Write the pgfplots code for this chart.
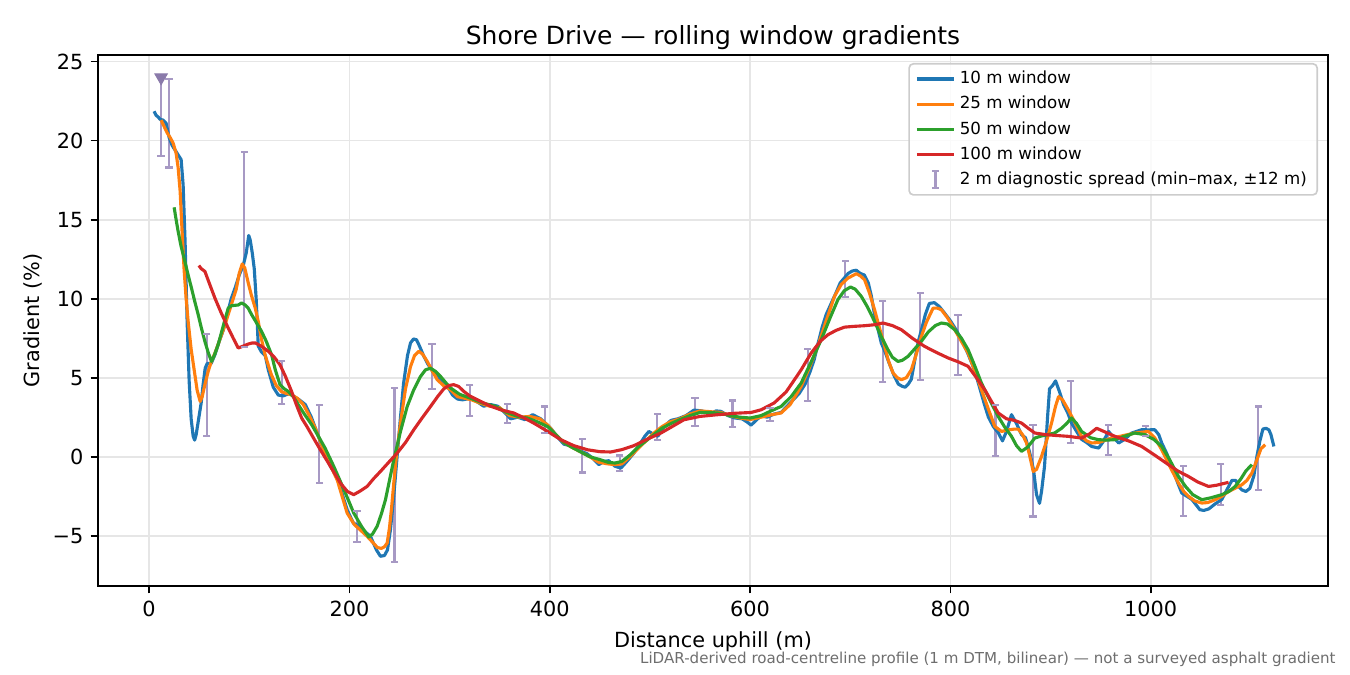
\documentclass[border=0pt]{standalone}
\usepackage{fontspec}
\setmainfont{DejaVu Sans}
\usepackage{pgfplots}
\usepackage{pgfplotstable}
\pgfplotsset{compat=1.18}

\definecolor{c10}{HTML}{1F77B4}
\definecolor{c25}{HTML}{FF7F0E}
\definecolor{c50}{HTML}{2CA02C}
\definecolor{c100}{HTML}{D62728}
\definecolor{barcol}{RGB}{167,153,196}
\definecolor{tricol}{RGB}{138,122,170}
\definecolor{gridgray}{RGB}{230,230,230}
\definecolor{footgray}{RGB}{110,110,110}

% 2 m diagnostic spread: x, min, max
\pgfplotstableread{
x lo hi
12 19.0 24.0
20 18.3 23.9
57.5 1.29 7.76
95 6.92 19.3
132.5 3.33 6.03
170 -1.67 3.29
207.5 -5.4 -3.42
245 -6.69 4.35
282.5 4.3 7.15
320 2.6 4.56
357.5 2.13 3.35
395 1.5 3.18
432.5 -1.0 1.14
470 -0.93 0.08
507.5 1.03 2.7
545 1.96 3.7
582.5 1.86 3.56
620 2.24 3.08
657.5 3.54 6.84
695 10.08 12.36
732.5 4.7 9.83
770 4.87 10.36
807.5 5.15 8.94
845 0.02 3.29
882.5 -3.78 1.98
920 0.87 4.8
957.5 0.13 2.03
995 1.29 1.92
1032.5 -3.73 -0.57
1070 -3.04 -0.46
1107.5 -2.13 3.18
}\spread

\begin{document}
\begin{tikzpicture}
\path[use as bounding box] (-47.04pt,-42.72pt) rectangle (600.96pt,281.28pt);
\begin{axis}[
    scale only axis,
    width=590.4pt, height=254.88pt,
    xmin=-51, xmax=1177,
    ymin=-8.18, ymax=25.42,
    xtick={0,200,400,600,800,1000},
    ytick={-5,0,5,10,15,20,25},
    yticklabels={−5,0,5,10,15,20,25},
    tick pos=left,
    tick align=outside,
    major tick length=3.5pt,
    every tick/.style={black, line width=0.8pt},
    axis line style={line width=0.8pt},
    grid=major,
    grid style={gridgray, line width=0.8pt},
    /pgf/number format/assume math mode=true,
    /pgf/number format/1000 sep={},
    tick label style={font=\fontsize{10}{12}\selectfont},
    title={Shore Drive — rolling window gradients},
    title style={font=\fontsize{12}{14}\selectfont, at={(axis description cs:0.5,1)}, anchor=base, yshift=-0.9pt},
    xlabel={Distance uphill (m)},
    xlabel style={font=\fontsize{10}{12}\selectfont, at={(axis description cs:0.5,0)}, anchor=base, yshift=-29.3pt},
    legend image code/.code={\draw[#1] (0pt,0pt) -- (17.8pt,0pt);},
    legend cell align=left,
    legend style={at={(axis description cs:1,1)}, anchor=north east, xshift=-4.8pt, yshift=-3.84pt,
        draw={rgb,255:red,204;green,204;blue,204}, line width=0.8pt, rounded corners=2pt,
        fill=white, fill opacity=0.8, text opacity=1,
        font=\fontsize{8}{9.6}\selectfont, row sep=0.5pt, inner xsep=3pt, inner ysep=1.5pt},
]

% spread bars: vertical lines, then caps at both ends
\addplot[draw=none, mark=none, forget plot,
    error bars/.cd, y dir=both, y explicit, error mark=none,
    error bar style={draw=barcol, line width=1pt}]
    table[x=x, y expr={(\thisrow{lo}+\thisrow{hi})/2}, y error expr={(\thisrow{hi}-\thisrow{lo})/2}] {\spread};
\addplot[only marks, mark=-, mark size=1.75pt, forget plot,
    mark options={draw=barcol, line width=1pt}] table[x=x, y=lo] {\spread};
\addplot[only marks, mark=-, mark size=1.75pt, forget plot,
    mark options={draw=barcol, line width=1pt}] table[x=x, y=hi] {\spread};

\addplot[only marks, mark=triangle*, mark size=3.5pt, forget plot,
    mark options={rotate=180, fill=tricol, draw=tricol}] coordinates {(12,24)};

% 10 m window
\addplot[c10, line width=1.5pt, line join=round] coordinates {
(5,21.86)(7,21.6)(9,21.5)(11,21.35)(14,21.3)(17,21.1)(20,20.2)(23,19.7)(26,19.4)(29,19.1)(32,18.8)(34,17.2)(36,13.5)(38,8.5)(40,4.8)(42,2.4)(44,1.3)(45.5,1.05)(47,1.4)(49,2.2)(52,3.4)(54,4.6)(56,5.6)(58,5.9)(62,5.9)(66,6.5)(70,7.3)(74,8.0)(78,9.0)(82,10.0)(86,10.7)(90,11.5)(94,12.1)(97,12.9)(99.5,14.0)(101,13.7)(103,12.9)(105,11.9)(107,9.9)(109,7.0)(112,6.65)(116,6.4)(119,5.5)(124,4.4)(129,3.9)(134,3.85)(140,4.0)(145,3.8)(150,3.6)(156,3.3)(162,2.5)(169,1.3)(175,0.3)(181,-0.6)(188,-1.3)(194,-2.6)(198,-3.4)(204,-4.2)(210,-4.4)(213,-4.6)(221,-5.04)(227,-5.9)(231,-6.3)(235,-6.25)(238,-5.9)(241,-4.6)(244,-2.7)(248,0.3)(251,2.5)(254,4.6)(258,6.4)(261,7.2)(264,7.45)(267,7.4)(270,7.0)(274,6.4)(278,5.9)(283,5.4)(288,5.05)(293,4.8)(298,4.45)(303,3.9)(308,3.65)(313,3.6)(321,3.7)(327,3.5)(334,3.2)(341,3.3)(348,3.2)(355,2.8)(361,2.4)(368,2.5)(375,2.35)(383,2.66)(391,2.4)(396,2.1)(401,1.8)(407,1.3)(414,0.8)(420,0.7)(426,0.5)(431,0.35)(437,0.2)(443,-0.1)(449,-0.5)(454,-0.3)(459,-0.25)(465,-0.6)(471,-0.72)(477,-0.3)(484,0.23)(490,0.8)(495,1.3)(499,1.6)(504,1.4)(508,1.3)(514,1.9)(521,2.3)(528,2.4)(536,2.6)(544,2.95)(552,2.9)(560,2.7)(566,2.9)(571,2.87)(578,2.6)(585,2.45)(592,2.4)(597,2.2)(601,2.0)(606,2.3)(611,2.6)(617,2.5)(624,2.7)(631,2.8)(637,3.2)(643,3.6)(649,4.0)(655,4.6)(660,5.4)(664,6.14)(668,7.2)(672,8.2)(676,9.0)(681,9.7)(686,10.4)(690,11.0)(694,11.3)(698,11.6)(702,11.75)(706,11.8)(710,11.6)(714,11.5)(718,11.0)(721,10.2)(724,9.1)(728,8.0)(731,7.2)(735,6.6)(739,5.9)(744,5.1)(748,4.6)(752,4.45)(755,4.4)(758,4.6)(761,4.9)(765,6.3)(768,7.3)(771,8.0)(775,9.0)(779,9.7)(784,9.75)(789,9.5)(794,9.1)(800,8.6)(806,8.0)(811,7.4)(817,6.6)(824,5.5)(830,4.2)(834,3.3)(838,2.5)(843,1.9)(848,1.5)(852,1.0)(856,1.6)(861,2.66)(866,2.1)(871,1.4)(875,1.2)(879,0.3)(883,-0.82)(886,-2.4)(889,-2.95)(891,-2.2)(894,-0.6)(897,2.5)(899,4.3)(902,4.5)(905,4.8)(909,4.1)(913,3.3)(917,2.8)(921,2.13)(926,1.6)(931,1.1)(936,0.9)(941,0.65)(948,0.55)(952,0.9)(958,1.6)(963,1.2)(968,0.87)(974,1.1)(981,1.5)(991,1.71)(998,1.7)(1004,1.71)(1008,1.4)(1011,0.87)(1016,0.2)(1021,-0.6)(1026,-1.5)(1031,-2.3)(1036,-2.5)(1041,-2.7)(1046,-3.1)(1049,-3.35)(1053,-3.4)(1058,-3.3)(1064,-3.0)(1071,-2.7)(1076,-2.1)(1081,-1.5)(1085,-1.5)(1088,-1.9)(1091,-2.1)(1095,-2.2)(1099,-2.0)(1103,-1.2)(1106,0.02)(1109,1.0)(1112,1.75)(1115,1.8)(1118,1.7)(1120,1.4)(1123,0.65)
};
\addlegendentry{10 m window}

% 25 m window
\addplot[c25, line width=1.5pt, line join=round] coordinates {
(12,21.3)(15,20.9)(18,20.5)(21,20.2)(24,19.85)(27,19.2)(29,18.3)(31,16.8)(33,14.2)(35,11.8)(37,10.0)(39,8.56)(42,6.8)(45,5.5)(48,4.2)(51,3.5)(53,3.8)(55.7,4.56)(59,5.4)(62,6.0)(66,6.6)(70,7.3)(75,8.2)(79,9.0)(83,9.8)(87,10.6)(90,11.6)(93,12.2)(95.5,11.95)(99,11.0)(102,10.25)(106,9.4)(109,8.56)(112,7.5)(116,6.4)(119,5.8)(122,5.2)(127,4.5)(132,4.13)(137,4.0)(142,3.92)(148,3.7)(154,3.3)(160,2.6)(166,1.8)(172,0.8)(180,-0.4)(188,-1.5)(197.7,-3.56)(205,-4.3)(212,-4.7)(217.7,-5.04)(223,-5.4)(228,-5.75)(232,-5.8)(235,-5.7)(237.7,-5.46)(240,-4.5)(242,-3.3)(244.3,-1.67)(247,0.1)(251,2.13)(256,4.3)(261,5.7)(265,6.4)(269.3,6.67)(273,6.5)(277.7,6.03)(283,5.4)(287.7,4.87)(294,4.5)(301,4.24)(308,3.8)(315,3.7)(322,3.6)(330,3.4)(340,3.2)(350,3.1)(360,2.6)(370,2.5)(380,2.55)(390,2.4)(398,2.0)(406,1.4)(414,0.9)(422,0.6)(431,0.3)(440,0.0)(449,-0.35)(457.7,-0.45)(465,-0.5)(472,-0.45)(480,0.0)(488,0.5)(496,1.0)(504,1.5)(512,1.9)(520,2.2)(530,2.4)(540,2.7)(550,2.9)(560,2.85)(571,2.8)(580,2.6)(590,2.45)(600,2.35)(611,2.5)(621,2.65)(631,2.77)(640,3.3)(651,4.45)(659,5.6)(667.7,7.0)(676,8.6)(684.3,10.15)(691,10.9)(697.7,11.3)(706,11.58)(710,11.45)(714.3,11.2)(719,10.4)(724.3,9.3)(729,8.2)(734.3,7.0)(738,6.1)(742.7,5.3)(747,5.0)(751,4.87)(756,5.0)(761,5.5)(766,6.5)(771,7.6)(776,8.5)(782.7,9.4)(787,9.4)(791,9.3)(797,8.8)(804.3,8.04)(811,7.3)(817.7,6.56)(824,5.5)(831,4.24)(838,3.0)(844.3,1.92)(851,1.6)(858,1.7)(864,1.75)(867.7,1.75)(872,1.4)(876,0.87)(879,0.1)(882.7,-0.93)(886,-0.8)(891,0.02)(896,1.0)(901,2.13)(905,3.2)(908,3.8)(912,3.6)(917.7,2.97)(924,2.2)(931,1.29)(936,1.0)(941,0.87)(948,0.9)(955,1.05)(961,1.18)(970,1.3)(977,1.4)(984,1.5)(991,1.55)(997.7,1.6)(1004,1.2)(1011,0.44)(1019,-0.6)(1027.7,-1.67)(1033,-2.2)(1037.7,-2.5)(1044,-2.8)(1051,-2.93)(1057,-2.9)(1064.3,-2.72)(1071,-2.5)(1077.7,-2.2)(1084,-2.0)(1091,-1.77)(1096,-1.5)(1101,-1.03)(1106,-0.2)(1110,0.5)(1114.3,0.76)
};
\addlegendentry{25 m window}

% 50 m window
\addplot[c50, line width=1.5pt, line join=round] coordinates {
(25,15.78)(27,15.0)(29,14.26)(32,13.3)(35.7,12.36)(39,11.5)(42.3,10.68)(45.7,9.8)(49,9.0)(52,8.2)(55.7,7.3)(59,6.6)(62.3,6.03)(65,6.4)(69,7.1)(72,7.8)(75,8.5)(79,9.4)(82,9.55)(85.7,9.58)(89,9.6)(92.3,9.73)(96,9.6)(99,9.4)(102.3,9.0)(107,8.5)(112.3,7.93)(117,7.3)(122.3,6.45)(126,5.5)(130.7,4.56)(135,4.3)(139,4.13)(144,3.8)(149,3.29)(155,2.7)(162.3,2.03)(169,1.3)(175.7,0.55)(184.3,-0.6)(194,-2.0)(204.3,-3.56)(212,-4.4)(219.3,-5.08)(223,-4.9)(227.7,-4.4)(232,-3.6)(236,-2.72)(240,-1.5)(244.3,-0.2)(251,1.6)(257.7,3.18)(264,4.2)(271,5.08)(276,5.5)(281,5.6)(286,5.4)(291,5.08)(296,4.7)(301,4.35)(310,3.95)(321,3.7)(333,3.4)(345,3.2)(357,2.8)(368,2.55)(377.7,2.45)(388,2.2)(398,1.9)(406,1.4)(414,0.9)(422,0.6)(431,0.3)(440,0.0)(451,-0.2)(458,-0.35)(465,-0.4)(472,-0.3)(480,0.1)(488,0.6)(496,1.0)(504,1.4)(512,1.8)(521,2.1)(530,2.35)(540,2.6)(550,2.8)(560,2.8)(571,2.75)(580,2.6)(590,2.5)(600,2.45)(611,2.6)(621,2.9)(631,3.18)(641,3.8)(651,4.66)(661,6.0)(671,7.4)(680,8.8)(687.7,9.94)(694,10.5)(700.3,10.74)(705,10.6)(711,10.15)(717,9.5)(724.3,8.56)(731,7.6)(737.7,6.77)(742,6.3)(747.7,6.03)(752,6.1)(757.7,6.35)(764,6.8)(771,7.3)(778,7.9)(785,8.3)(791,8.46)(797,8.4)(804.3,8.04)(811,7.5)(817.7,6.77)(824,5.8)(831,4.66)(840,3.5)(847.7,2.55)(854,1.9)(861,1.29)(866,0.7)(871,0.34)(877,0.6)(884.3,1.18)(890,1.3)(897.7,1.4)(904,1.5)(911,1.8)(916,2.1)(921,2.45)(926,2.1)(931,1.6)(940,1.2)(947.7,1.08)(956,1.05)(964.3,1.08)(974,1.3)(984,1.5)(994,1.4)(1003,1.1)(1011,0.65)(1019,-0.2)(1027.7,-1.25)(1035,-1.9)(1042,-2.4)(1051,-2.72)(1060,-2.6)(1071,-2.4)(1078,-2.2)(1084.3,-1.88)(1090,-1.4)(1095,-0.9)(1101,-0.5)
};
\addlegendentry{50 m window}

% 100 m window
\addplot[c100, line width=1.5pt, line join=round] coordinates {
(49.7,12.1)(52,11.9)(55.7,11.73)(60,11.0)(65.7,10.04)(72,9.1)(79,8.14)(84,7.5)(89,6.88)(94,7.0)(99,7.13)(103,7.2)(106,7.2)(112,7.0)(119,6.67)(125,6.3)(130.7,5.82)(136,5.1)(142.3,4.13)(147,3.3)(152.3,2.45)(157.7,1.9)(164,1.2)(171,0.44)(180,-0.5)(191,-1.67)(198,-2.2)(204.3,-2.4)(210,-2.2)(217.7,-1.88)(224,-1.4)(231,-0.93)(240,-0.3)(247.7,0.23)(256,0.9)(264.3,1.71)(272,2.4)(281,3.18)(288,3.8)(294.3,4.3)(299,4.5)(304,4.56)(309,4.45)(314.3,4.13)(320,3.85)(331,3.5)(341,3.2)(351,2.97)(364,2.77)(373,2.5)(384,2.13)(398,1.6)(411,1.08)(424,0.7)(437.7,0.44)(450,0.32)(461,0.3)(472,0.45)(484,0.7)(497,1.1)(511,1.5)(522,1.9)(534,2.34)(550,2.55)(567.7,2.66)(585,2.75)(601,2.8)(611,2.97)(624,3.4)(636,4.1)(644.3,4.87)(651,5.5)(661,6.56)(670,7.3)(677.7,7.72)(686,8.0)(694.3,8.2)(704,8.25)(714.3,8.29)(724,8.35)(732.7,8.46)(742,8.3)(751,8.04)(762,7.5)(774.3,6.98)(786,6.6)(797.7,6.25)(808,6.0)(817.7,5.72)(826,5.0)(834.3,4.24)(841,3.5)(847.7,2.77)(856,2.4)(864,2.3)(871,2.13)(877.7,1.8)(884.3,1.5)(895,1.4)(904.3,1.35)(917.7,1.29)(931,1.18)(939,1.45)(946,1.8)(955,1.55)(964.3,1.29)(978,1.0)(991,0.65)(1004,0.1)(1017.7,-0.5)(1027,-0.9)(1037.7,-1.25)(1047,-1.6)(1057.7,-1.88)(1066,-1.8)(1077.7,-1.62)
};
\addlegendentry{100 m window}

\addlegendimage{legend image code/.code={
    \draw[barcol, line width=1pt] (8.9pt,-4pt) -- (8.9pt,4pt);
    \draw[barcol, line width=1pt] (7.2pt,-4pt) -- (10.6pt,-4pt);
    \draw[barcol, line width=1pt] (7.2pt,4pt) -- (10.6pt,4pt);}}
\addlegendentry{2 m diagnostic spread (min–max, ±12 m)}
\end{axis}
\node[rotate=90, anchor=base, inner sep=0pt, font=\fontsize{10}{12}\selectfont]
    at ([xshift=-28.3pt]current axis.west) {Gradient (\%)};
\node[anchor=base east, inner sep=0pt, font=\fontsize{7.24}{8.5}\selectfont, text=footgray]
    at ([xshift=3.84pt, yshift=-37.1pt]current axis.south east)
    {LiDAR-derived road-centreline profile (1 m DTM, bilinear) — not a surveyed asphalt gradient};
\end{tikzpicture}
\end{document}
